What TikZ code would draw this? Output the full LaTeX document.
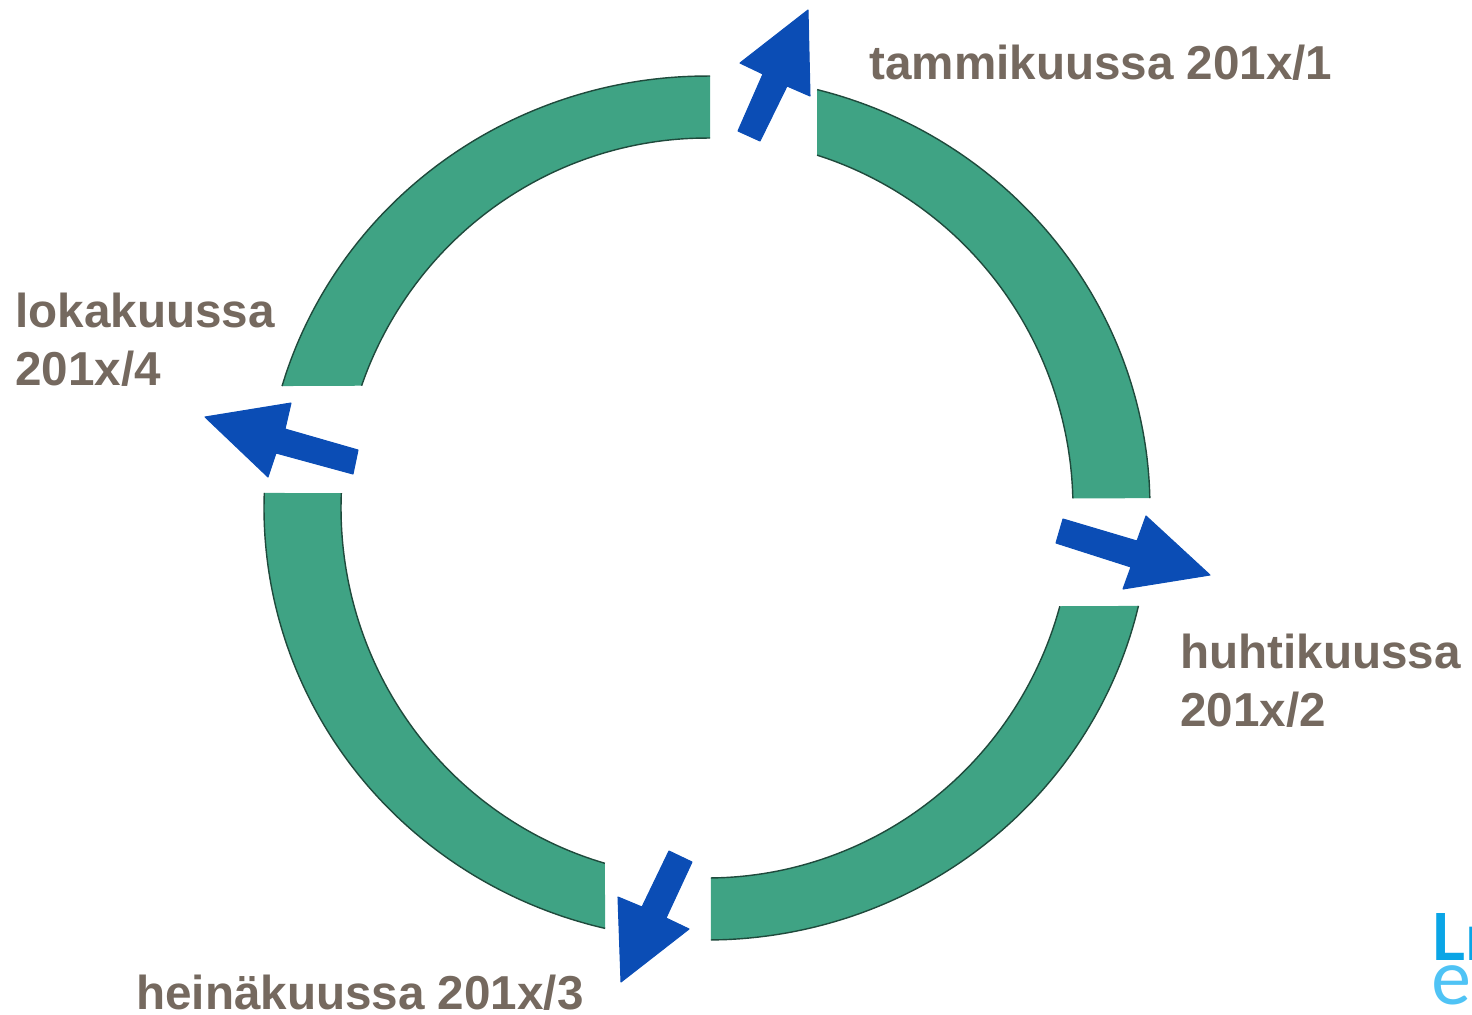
\documentclass[tikz,border=0pt]{standalone}
\usepackage{fontspec}
\setmainfont{Liberation Sans}
\newfontfamily\logofont{Lato}
\definecolor{bandgreen}{HTML}{3FA384}
\definecolor{bandedge}{HTML}{1F4A3C}
\definecolor{arrowblue}{HTML}{0B4DB5}
\definecolor{labelgrey}{HTML}{75695F}
\definecolor{logoblue}{HTML}{0AA5E6}
\definecolor{logolight}{HTML}{4FC3F5}
\tikzset{
    band/.style={fill=bandgreen,draw=none},
    bandline/.style={draw=bandedge,line width=0.8pt},
    turn/.style={fill=arrowblue,draw=arrowblue,line width=0.6pt,line join=round},
    period/.style={anchor=base west,inner sep=0pt,text=labelgrey,align=left,font=\fontsize{27.1}{33}\selectfont\bfseries},
    logotext/.style={anchor=base west,inner sep=0pt}
}
\begin{document}
\begin{tikzpicture}[x=0.02cm,y=-0.02cm]
\useasboundingbox (0,0) rectangle (1472,1015);
\clip (0,0) rectangle (1472,1015);
% ring
\foreach \a/\b/\c/\d in {75.6/1.3/1.5/72.5,-13.1/-89.5/-89.4/-15.4,-103.3/-182/-182.3/-106.2,163.6/89.6/89.5/160.7}
{
    \fill[band] plot[domain=\a:\b, samples=40, smooth]({707+443*cos(\x)},{508-432*sin(\x)})
        -- plot[domain=\c:\d, samples=40, smooth]({707+366*cos(\x)},{508-370*sin(\x)}) -- cycle;
    \draw[bandline] plot[domain=\a:\b, samples=40, smooth]({707+443*cos(\x)},{508-432*sin(\x)});
    \draw[bandline] plot[domain=\c:\d, samples=40, smooth]({707+366*cos(\x)},{508-370*sin(\x)});
}
% arrows
\filldraw[turn](808,10)--(740,63)--(763,74)--(738,131)--(760,141)--(787,86)--(810,96)--cycle;
\filldraw[turn](1210,575)--(1146,516)--(1137,541)--(1063,519)--(1056,543)--(1131,567)--(1123,589)--cycle;
\filldraw[turn](621,982)--(618,897)--(642,907)--(669,851)--(692,862)--(666,918)--(689,929)--cycle;
\filldraw[turn](205,417)--(291,403)--(285,429)--(358,450)--(353,474)--(276,453)--(268,477)--cycle;
% labels
\node[period] (jan) at (869,79){tammikuussa 201x/1};
\node[period] (apr) at (1180,726){huhtikuussa\\201x/2};
\node[period] (jul) at (136,1009){heinäkuussa 201x/3};
\node[period] (oct) at (15,385){lokakuussa\\201x/4};
% logo
\node[logotext,text=logoblue,font=\logofont\bfseries\fontsize{37}{37}\selectfont] (logotop) at (1431,960){Lı};
\node[logotext,text=logolight,font=\logofont\fontsize{43}{43}\selectfont] (logobottom) at (1431,1004){e};
\end{tikzpicture}
\end{document}
